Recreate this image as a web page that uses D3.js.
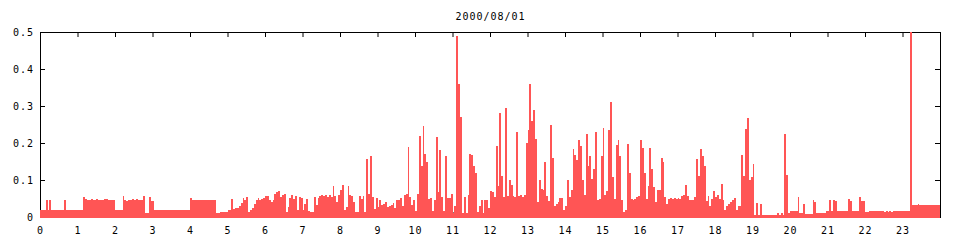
<!DOCTYPE html>
<html>
<head>
<meta charset="utf-8">
<script src="https://cdn.jsdelivr.net/npm/d3@7"></script>
<style>
body { margin: 0; background: #fff; }
svg text { font-family: "DejaVu Sans Mono", monospace; font-size: 10px; letter-spacing: 1px; fill: #000; }
</style>
</head>
<body>
<svg id="chart" width="960" height="240"></svg>
<script>
var title = '2000/08/01';
var binMinutes = 3;

// one value per 3 minutes, 20 per hour
var h00 = [.018,.018,.018,.047,.018,.047,.018,.018,.018,.018,.018,.018,.018,.047,.018,.018,.018,.018,.018,.018];
var h01 = [.018,.018,.018,.055,.05,.047,.046,.048,.046,.047,.048,.046,.047,.047,.048,.048,.047,.046,.047,.045];
var h02 = [.018,.018,.018,.018,.058,.045,.044,.046,.047,.05,.045,.05,.046,.045,.046,.058,.012,.012,.054,.044];
var h03 = [.044,.018,.018,.018,.018,.018,.018,.018,.018,.018,.018,.018,.018,.018,.018,.018,.018,.018,.018,.018];
var h04 = [.052,.047,.047,.047,.047,.047,.046,.047,.047,.047,.046,.047,.047,.047,.012,.012,.014,.014,.014,.014];
var h05 = [.019,.02,.048,.022,.023,.025,.03,.037,.052,.045,.053,.013,.018,.025,.035,.045,.052,.045,.05,.052];
var h06 = [.058,.058,.045,.04,.045,.063,.068,.071,.055,.06,.063,.013,.027,.051,.06,.05,.058,.02,.053,.052];
var h07 = [.02,.034,.05,.016,.014,.013,.054,.033,.052,.056,.06,.056,.06,.054,.06,.054,.083,.056,.04,.06];
var h08 = [.074,.086,.018,.027,.083,.06,.058,.04,.014,.014,.058,.05,.058,.014,.157,.063,.164,.054,.022,.052];
var h09 = [.026,.045,.033,.036,.04,.027,.03,.033,.038,.025,.045,.045,.051,.03,.06,.062,.19,.054,.033,.047];
var h10 = [.017,.062,.22,.137,.247,.17,.15,.05,.052,.015,.045,.215,.068,.18,.054,.015,.166,.052,.051,.062];
var h11 = [.01,.03,.49,.36,.27,.01,.054,.01,.06,.17,.168,.139,.119,.013,.03,.047,.01,.047,.045,.025];
var h12 = [.07,.067,.055,.193,.085,.28,.112,.055,.294,.057,.1,.087,.057,.054,.23,.056,.06,.055,.06,.2];
var h13 = [.236,.36,.26,.29,.212,.04,.1,.076,.072,.15,.058,.043,.25,.159,.03,.035,.04,.052,.052,.02];
var h14 = [.03,.099,.055,.072,.184,.168,.153,.207,.193,.1,.06,.225,.139,.166,.103,.13,.229,.045,.05,.166];
var h15 = [.24,.06,.07,.236,.31,.108,.05,.195,.207,.164,.045,.013,.02,.198,.119,.05,.045,.05,.053,.056];
var h16 = [.209,.187,.12,.05,.085,.186,.13,.08,.04,.074,.072,.16,.148,.054,.035,.05,.052,.05,.052,.05];
var h17 = [.052,.05,.056,.06,.087,.058,.045,.045,.047,.054,.157,.112,.184,.166,.139,.042,.058,.03,.05,.07];
var h18 = [.055,.06,.05,.09,.047,.02,.029,.035,.04,.045,.051,.02,.03,.03,.168,.11,.238,.268,.1,.108];
var h19 = [.144,.006,.038,.006,.035,.006,.006,.006,.006,.006,.006,.006,.006,.011,.006,.011,.006,.225,.114,.012];
var h20 = [.017,.015,.017,.015,.054,.012,.012,.036,.009,.009,.009,.009,.045,.04,.012,.012,.012,.012,.012,.017];
var h21 = [.017,.047,.017,.047,.044,.017,.017,.017,.017,.017,.017,.05,.044,.017,.017,.017,.017,.053,.044,.044];
var h22 = [.0145,.0145,.017,.017,.017,.017,.017,.017,.017,.017,.0145,.017,.0145,.017,.0145,.017,.017,.017,.017,.017];
var h23 = [.017,.017,.017,.017,.5,.032,.032,.032,.034,.032,.032,.032,.032,.032,.032,.032,.032,.032,.032,.032];

var xTicks = d3.range(0, 24);
var yTicks = [0, 0.1, 0.2, 0.3, 0.4, 0.5];
var yLabels = ['0', '0.1', '0.2', '0.3', '0.4', '0.5'];

var values = [].concat(h00, h01, h02, h03, h04, h05, h06, h07, h08, h09, h10, h11,
	h12, h13, h14, h15, h16, h17, h18, h19, h20, h21, h22, h23);

var plotLeft = 40.5, plotRight = 940.5, plotTop = 32.5, plotBottom = 217.5;

var svg = d3.select('#chart');

var x = d3.scaleLinear().domain([0, 24]).range([plotLeft, plotRight]);
var y = d3.scaleLinear().domain([0, 0.5]).range([plotBottom, plotTop]);

svg.append('rect')
	.attr('width', 960)
	.attr('height', 240)
	.attr('fill', '#fff');

svg.append('text')
	.attr('x', (plotLeft + plotRight) / 2)
	.attr('y', 19.5)
	.attr('text-anchor', 'middle')
	.text(title);

// border
svg.append('rect')
	.attr('x', plotLeft)
	.attr('y', plotTop)
	.attr('width', plotRight - plotLeft)
	.attr('height', plotBottom - plotTop)
	.attr('fill', 'none')
	.attr('stroke', '#000')
	.attr('stroke-width', 1);

var styleAxis = function(g){
	g.attr('font-family', null).attr('font-size', null);
	g.select('.domain').remove();
	g.selectAll('line').attr('stroke', '#000');
};

svg.append('g')
	.attr('transform', 'translate(40,0)')
	.call(d3.axisLeft(y).tickValues(yTicks).tickSize(-5).tickPadding(6).offset(0)
		.tickFormat(function(d, i){ return yLabels[i]; }))
	.call(styleAxis);

svg.append('g')
	.attr('transform', 'translate(940,0)')
	.call(d3.axisRight(y).tickValues(yTicks).tickSize(-5).offset(0).tickFormat(''))
	.call(styleAxis);

svg.append('g')
	.attr('transform', 'translate(0,32)')
	.call(d3.axisTop(x).tickValues(xTicks).tickSize(-5).offset(0).tickFormat(''))
	.call(styleAxis);

svg.append('g')
	.attr('transform', 'translate(0,217)')
	.call(d3.axisBottom(x).tickValues(xTicks).tickSize(-5).tickPadding(10).offset(0)
		.tickFormat(d3.format('d')))
	.call(styleAxis);

// bars on top, they hide the bottom border like the original
var step = binMinutes / 60;
svg.append('g')
	.attr('shape-rendering', 'crispEdges')
	.selectAll('rect')
	.data(values)
	.enter()
	.append('rect')
	.attr('x', function(d, i){ return x(i * step) - 0.5; })
	.attr('width', function(d, i){ return x((i + 1) * step) - x(i * step); })
	.attr('y', function(d){ return y(d) - 0.5; })
	.attr('height', function(d){ return 218 - y(d) + 0.5; })
	.attr('fill', '#ff5555');
</script>
</body>
</html>
